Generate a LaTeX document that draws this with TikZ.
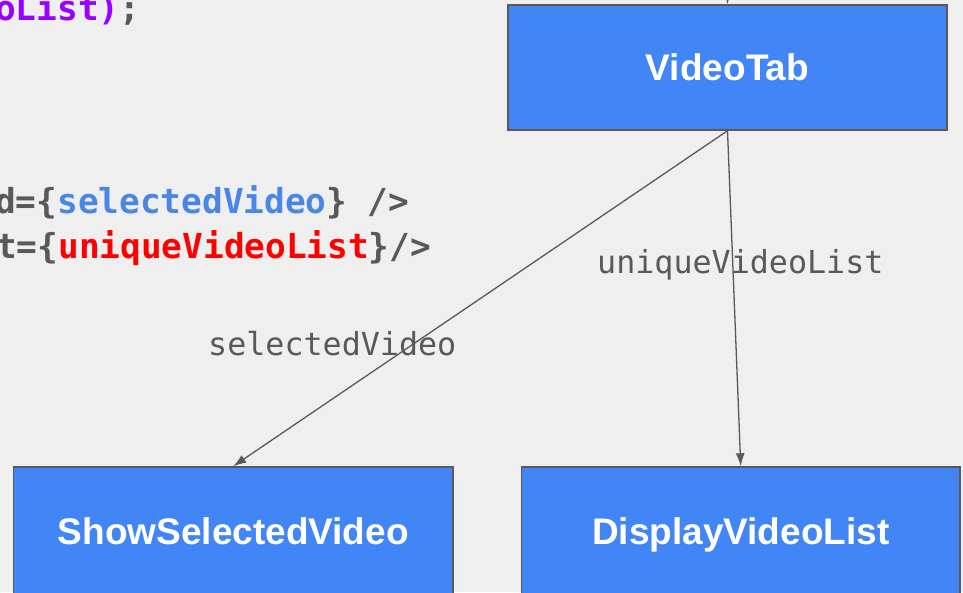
\documentclass[tikz,border=0pt]{standalone}
\usepackage{fontspec}
\setmainfont{Liberation Sans}
\newfontfamily\codefont{DejaVu Sans Mono}
\usetikzlibrary{arrows.meta}
\definecolor{bg}{HTML}{EFEFEF}
\definecolor{boxblue}{HTML}{4285F4}
\definecolor{edgegray}{HTML}{595959}
\definecolor{propblue}{HTML}{4A86E8}
\definecolor{propred}{HTML}{FF0000}
\definecolor{proppurple}{HTML}{9900FF}
\tikzset{
  comp/.style={draw=edgegray, line width=1.5pt, fill=boxblue, text=white,
    font=\fontsize{37}{40}\selectfont\bfseries, inner sep=0pt,
    text height=26.5pt, text depth=0pt},
  code/.style={anchor=base west, inner sep=0pt, text=edgegray,
    font=\codefont\fontsize{34.4}{40}\selectfont\bfseries},
  proplabel/.style={anchor=base west, inner sep=0pt, text=edgegray,
    font=\codefont\fontsize{31.7}{36}\selectfont},
  flow/.style={draw=edgegray, line width=1.3pt,
    -{Latex[length=13pt,width=9pt]}}
}
\begin{document}
\begin{tikzpicture}[x=1pt,y=-1pt]
  \clip (0,0) rectangle (963,592);
  \fill[bg] (0,0) rectangle (963,592);

  % code fragment
  \node[code] (c1) at (-5,20) {\textcolor{proppurple}{oList)};};
  \node[code] (c2) at (-5,213) {d=\{\textcolor{propblue}{selectedVideo}\} />};
  \node[code] (c3) at (-4,258) {t=\{\textcolor{propred}{uniqueVideoList}\}/>};

  % components
  \node[comp, minimum width=439pt, minimum height=125pt] (tab) at (727.5,67.5) {VideoTab};
  \node[comp, minimum width=439.5pt, minimum height=129pt] (ssv) at (233.25,531.5) {ShowSelectedVideo};
  \node[comp, minimum width=438.5pt, minimum height=129pt] (dvl) at (740.75,531.5) {DisplayVideoList};

  \coordinate (parent) at (727.5,-40);

  % props flow
  \draw[flow] (parent) -- (tab.north);
  \draw[flow] (tab.south) -- (ssv.north);
  \draw[flow] (tab.south) -- (dvl.north);

  \node[proplabel] (l1) at (208,355) {selectedVideo};
  \node[proplabel] (l2) at (597,273) {uniqueVideoList};
\end{tikzpicture}
\end{document}
